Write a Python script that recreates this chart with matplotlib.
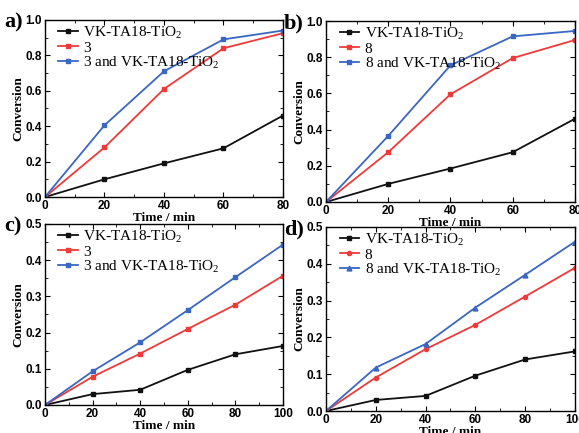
import matplotlib
matplotlib.use('Agg')
import matplotlib.pyplot as plt
from matplotlib.ticker import MultipleLocator

# data
time80 = [0, 20, 40, 60, 80]
time100 = [0, 20, 40, 60, 80, 100]

a_cat = [0, 0.10, 0.19, 0.275, 0.46]
a_sub = [0, 0.28, 0.61, 0.84, 0.925]
a_both = [0, 0.405, 0.71, 0.89, 0.94]

b_cat = [0, 0.10, 0.185, 0.275, 0.46]
b_sub = [0, 0.275, 0.595, 0.795, 0.895]
b_both = [0, 0.365, 0.755, 0.915, 0.945]

c_cat = [0, 0.030, 0.042, 0.097, 0.140, 0.163]
c_sub = [0, 0.078, 0.142, 0.210, 0.277, 0.357]
c_both = [0, 0.093, 0.173, 0.262, 0.353, 0.443]

d_cat = [0, 0.030, 0.041, 0.096, 0.140, 0.162]
d_sub = [0, 0.091, 0.168, 0.234, 0.311, 0.389]
d_both = [0, 0.118, 0.182, 0.281, 0.370, 0.460]

serif = 'Liberation Serif'
sans = 'Liberation Sans'
black, red, blue = '#111111', '#f03a3a', '#3a66c4'


def panel(ax, t, cat, sub, both, subname, tag, ymax, ystep, xstep_minor,
          markers=('s', 's', 's')):
    cat_lbl = r'VK-TA18-TiO$_\mathregular{2}$'
    ax.plot(t, cat, color=black, marker=markers[0], ms=3, lw=1.3, label=cat_lbl)
    ax.plot(t, sub, color=red, marker=markers[1], ms=3, lw=1.3, label=subname)
    ax.plot(t, both, color=blue, marker=markers[2], ms=3.5, lw=1.3,
            label=subname + ' and ' + cat_lbl)
    ax.set_xlim(0, t[-1])
    ax.set_ylim(0, ymax)
    ax.xaxis.set_major_locator(MultipleLocator(20))
    ax.xaxis.set_minor_locator(MultipleLocator(xstep_minor))
    ax.yaxis.set_major_locator(MultipleLocator(ystep))
    ax.yaxis.set_minor_locator(MultipleLocator(ystep / 2))
    ax.tick_params(which='both', direction='in', top=True, right=True)
    ax.tick_params(which='major', length=3.5, labelsize=8.5, pad=2)
    ax.tick_params(which='minor', length=2)
    for lab in ax.get_xticklabels() + ax.get_yticklabels():
        lab.set_fontfamily(sans)
        lab.set_fontweight('bold')
    ax.set_xlabel('Time / min', family=serif, fontweight='bold', fontsize=9.5, labelpad=0)
    ax.set_ylabel('Conversion', family=serif, fontweight='bold', fontsize=9.5, labelpad=1)
    ax.legend(loc='upper left', frameon=False, prop={'family': serif, 'size': 11},
              handlelength=1.3, handletextpad=0.35, labelspacing=0.0,
              borderaxespad=0.0, bbox_to_anchor=(0.03, 1.01))
    ax.text(-0.17, 0.985, tag, transform=ax.transAxes, family=serif, fontweight='bold',
            fontsize=16, ha='left', va='center')
    for s in ax.spines.values():
        s.set_linewidth(1.0)


plt.rcParams['mathtext.fontset'] = 'custom'
plt.rcParams['mathtext.rm'] = serif

fig = plt.figure(figsize=(5.79, 4.33), dpi=100)
ax_a = fig.add_axes([0.0777, 0.545, 0.411, 0.409])
ax_b = fig.add_axes([0.563, 0.5335, 0.430, 0.418])
ax_c = fig.add_axes([0.0777, 0.0647, 0.411, 0.418])
ax_d = fig.add_axes([0.563, 0.0508, 0.430, 0.425])

panel(ax_a, time80, a_cat, a_sub, a_both, '3', 'a)', 1.0, 0.2, 10)
panel(ax_b, time80, b_cat, b_sub, b_both, '8', 'b)', 1.0, 0.2, 10)
panel(ax_c, time100, c_cat, c_sub, c_both, '3', 'c)', 0.5, 0.1, 10)
panel(ax_d, time100, d_cat, d_sub, d_both, '8', 'd)', 0.5, 0.1, 10,
      markers=('s', 'o', '^'))

fig.savefig('out.png', dpi=100)
